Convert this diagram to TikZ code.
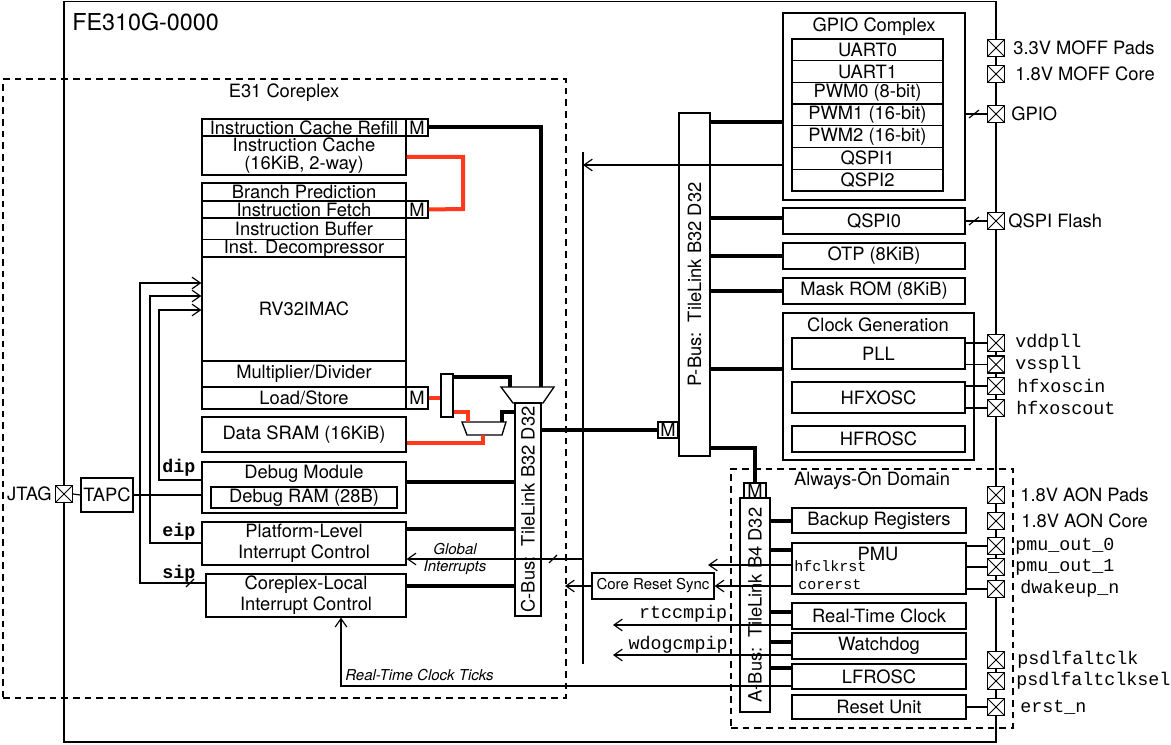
\documentclass[tikz,border=0pt]{standalone}
\usepackage{fontspec}
\setmainfont{TeX Gyre Heros}
\setmonofont{Liberation Mono}
\usetikzlibrary{arrows.meta,positioning,calc}
\definecolor{fetchred}{HTML}{FF3A1C}

\begin{document}
\begin{tikzpicture}[x=0.6pt,y=-0.6pt,
      blk/.style={draw,line width=0.8pt,fill=white,inner sep=0pt,font=\fontsize{11}{12.5}\selectfont},
      wh/.style 2 args={minimum width=#1*0.6pt,minimum height=#2*0.6pt},
      dom/.style={draw,line width=0.8pt,dash pattern=on 4pt off 3pt,inner sep=0pt},
      iopad/.style={draw,line width=0.8pt,fill=white,minimum size=10.2pt,inner sep=0pt,
        path picture={\draw[line width=0.6pt] (path picture bounding box.south west)--(path picture bounding box.north east)
          (path picture bounding box.north west)--(path picture bounding box.south east);}},
      padtxt/.style={anchor=west,inner sep=0pt,font=\fontsize{11}{12}\selectfont},
      padsig/.style={anchor=west,inner sep=0pt,font=\fontsize{11}{12}\selectfont\ttfamily},
      smallsig/.style={anchor=west,inner sep=0pt,font=\fontsize{9}{10}\selectfont\ttfamily},
      irq/.style={inner sep=0pt,font=\fontsize{11}{12}\selectfont\ttfamily\bfseries},
      itnote/.style={inner sep=0pt,font=\fontsize{9}{10}\selectfont\itshape},
      hdr/.style={inner sep=0pt,font=\fontsize{11}{12}\selectfont},
      bustxt/.style={rotate=90,inner sep=0pt,font=\fontsize{11}{12}\selectfont},
      tlbus/.style={line width=2.4pt},
      tlred/.style={line width=2.4pt,fetchred},
      wire/.style={line width=0.7pt},
      sigarr/.style={wire,-{Straight Barb[length=5pt,width=7pt]}}]
    \useasboundingbox (0,0) rectangle (1171,745);
    \node[draw,line width=0.9pt,inner sep=0pt,wh={932}{740.5}] (chip) at (530,371.75) {};
    \node[anchor=west,inner sep=0pt,font=\fontsize{14}{16}\selectfont] at (72,22) {FE310G-0000};
    \node[dom,wh={563}{619}] (coreplex) at (284.5,388.5) {};
    \node[hdr] at (284,93) {E31 Coreplex};
    \node[dom,wh={282}{259}] (aon) at (872,598.5) {};
    \node[hdr] at (872,481) {Always-On Domain};

    % core
    \node[blk,wh={204}{17}] (icrefill) at (304,127.5) {Instruction Cache Refill};
    \node[blk,wh={204}{39}] (icache) at (304,155.5) {};
    \node[hdr] at (304,145) {Instruction Cache};
    \node[hdr] at (304,165) {(16KiB, 2-way)};
    \node[blk,wh={204}{18}] (bpred) at (304,192) {Branch Prediction};
    \node[blk,wh={204}{17}] (ifetch) at (304,209.5) {Instruction Fetch};
    \node[blk,wh={204}{22}] (ibuf) at (304,229) {Instruction Buffer};
    \node[blk,wh={204}{17}] (idecomp) at (304,248.5) {Inst. Decompressor};
    \node[blk,wh={204}{104}] (core) at (304,309) {RV32IMAC};
    \node[blk,wh={204}{26}] (muldiv) at (304,374) {Multiplier/Divider};
    \node[blk,wh={204}{22}] (lsu) at (304,398) {Load/Store};
    \node[blk,wh={204}{35}] (dsram) at (304,434.5) {Data SRAM (16KiB)};
    \node[blk,wh={204}{51}] (debug) at (304,487.5) {};
    \node[hdr] at (304,474) {Debug Module};
    \node[blk,wh={186}{21}] (debugram) at (304,497.5) {Debug RAM (28B)};
    \node[blk,wh={204}{43},align=center] (plic) at (304,543.5) {Platform-Level\\Interrupt Control};
    \node[blk,wh={200}{43},align=center] (clint) at (306,595.5) {Coreplex-Local\\Interrupt Control};
    \node[blk,wh={22}{17}] (mRefill) at (417,127.5) {M};
    \node[blk,wh={22}{17}] (mFetch) at (417,209.5) {M};
    \node[blk,wh={22}{22}] (mLsu) at (417,398) {M};
    \node[blk,wh={12}{43}] (demux) at (447,395.5) {};
    \draw[line width=0.8pt,fill=white] (501,387) -- (554,387) -- (543,403) -- (513,403) -- cycle;
    \draw[line width=0.8pt,fill=white] (462,422) -- (506,422) -- (502,435) -- (467,435) -- cycle;
    \node[blk,wh={26}{213}] (cbus) at (528,509.5) {};
    \node[bustxt] at (cbus.center) {C-Bus:~~TileLink B32 D32};
    \node[blk,wh={52}{34}] (tapc) at (107,495) {TAPC};
    \node[blk,wh={122}{26},font=\fontsize{9}{10}\selectfont] (crsync) at (653,586) {Core Reset Sync};

    % peripherals
    \node[blk,wh={31}{343}] (pbus) at (694.5,284.5) {};
    \node[bustxt] at (pbus.center) {P-Bus:~~TileLink B32 D32};
    \node[blk,wh={20}{16}] (mPbus) at (668,430) {M};
    \node[blk,wh={182}{187}] (gpio) at (874,106.5) {};
    \node[hdr] at (874,27) {GPIO Complex};
    \foreach \lbl [count=\i from 0] in {UART0,UART1,PWM0 (8-bit),PWM1 (16-bit),PWM2 (16-bit),QSPI1,QSPI2}
      \node[blk,wh={151}{21.7}] (gp\i) at (867.5,49.85+21.7*\i) {\lbl};
    \node[blk,wh={182}{26}] (qspi0) at (874,221) {QSPI0};
    \node[blk,wh={182}{26}] (otp) at (874,256) {OTP (8KiB)};
    \node[blk,wh={182}{26}] (maskrom) at (874,291) {Mask ROM (8KiB)};
    \node[blk,wh={191}{147}] (clkgen) at (878.5,386.5) {};
    \node[hdr] at (878,325) {Clock Generation};
    \node[blk,wh={173}{31}] (pll) at (878.5,353.5) {PLL};
    \node[blk,wh={173}{31}] (hfxosc) at (878.5,397.5) {HFXOSC};
    \node[blk,wh={173}{26}] (hfrosc) at (878.5,439) {HFROSC};

    % always-on
    \node[blk,wh={30}{214}] (abus) at (755,605) {};
    \node[bustxt] at (abus.center) {A-Bus:~~TileLink B4 D32};
    \node[blk,wh={22}{15}] (mAbus) at (755,490.5) {M};
    \node[blk,wh={174}{25}] (backup) at (879,520.5) {Backup Registers};
    \node[blk,wh={174}{51}] (pmu) at (879,568.5) {};
    \node[hdr] at (878,554) {PMU};
    \node[blk,wh={174}{26}] (rtc) at (879,616) {Real-Time Clock};
    \node[blk,wh={174}{26}] (wdog) at (879,646) {Watchdog};
    \node[blk,wh={174}{25}] (lfrosc) at (879,676.5) {LFROSC};
    \node[blk,wh={174}{24}] (rstunit) at (879,707) {Reset Unit};

    % buses
    \draw[tlbus] (mRefill.east) -| (541,387);
    \draw[tlred] (icache.east |- 0,157) -| (463,209) -- (mFetch.east);
    \draw[tlred] (mLsu.east) -- (mLsu.east -| demux.west);
    \draw[tlbus] (demux.east |- 0,377) -| (510,387);
    \draw[tlred] (demux.east |- 0,412) -| (468,422);
    \draw[tlred] (dsram.east |- 0,443) -| (483,435);
    \draw[tlbus] (502,422) |- (cbus.west |- 0,412);
    \foreach \src/\yy in {debug/482,plic/529,clint/586}
      \draw[tlbus] (\src.east |- 0,\yy) -- (cbus.west |- 0,\yy);
    \draw[tlbus] (cbus.east |- mPbus) -- (mPbus.west);
    \foreach \dst/\yy in {gpio/122,qspi0/218,otp/256,maskrom/291,clkgen/369}
      \draw[tlbus] (pbus.east |- 0,\yy) -- (\dst.west |- 0,\yy);
    \draw[tlbus] (pbus.east |- 0,448) -| (mAbus.north);
    \foreach \dst/\yy in {backup/521,pmu/550,rtc/612,wdog/642,lfrosc/668}
      \draw[tlbus] (abus.east |- 0,\yy) -- (\dst.west |- 0,\yy);

    % interrupts and signals
    \draw[sigarr] (debug.west |- 0,480) -| (159,310) -- (core.west |- 0,310);
    \draw[sigarr] (plic.west |- 0,543) -| (150,296) -- (core.west |- 0,296);
    \draw[sigarr] (clint.west |- 0,583) -| (140,283) -- (core.west |- 0,283);
    \draw[wire] (186,587) -- (194,579);
    \node[irq] at (179,468) {dip};
    \node[irq] at (179,532) {eip};
    \node[irq] at (179,574) {sip};
    \draw[wire] (tapc.east) -- (tapc.east -| debug.west);
    \draw[wire] (583,152) coordinate (irqtop) -- (583,664);
    \draw[sigarr] (gpio.west |- 0,165) -- (irqtop |- 0,165);
    \draw[sigarr] (irqtop |- 0,559) -- (plic.east |- 0,559);
    \draw[wire] (549,563) -- (557,555);
    \node[itnote] at (455,549) {Global};
    \node[itnote] at (455,568) {Interrupts};
    \draw[sigarr] (pmu.west |- 0,565) -- (708,565);
    \draw[sigarr] (pmu.west |- 0,586) -- (crsync.east);
    \draw[sigarr] (crsync.west) -- (565,586);
    \draw[sigarr] (rtc.west |- 0,625) -- (613,625);
    \draw[sigarr] (wdog.west |- 0,655) -- (613,655);
    \draw[sigarr] (lfrosc.west |- 0,686) -| (clint.south -| 341,0);
    \node[smallsig] at (794,566) {hfclkrst};
    \node[smallsig] at (798,585) {corerst};
    \node[padsig,anchor=center] at (683,614) {rtccmpip};
    \node[padsig,anchor=center] at (678,645) {wdogcmpip};
    \node[itnote,anchor=west] at (345,675) {Real-Time Clock Ticks};

    % pads
    \node[iopad] (pJtag) at (64,494) {};
    \node[padtxt,anchor=east] at (52,494) {JTAG};
    \draw[wire] (pJtag.east) -- (tapc.west);
    \foreach \nm/\yy in {pMoffP/48,pMoffC/74,pGpio/114,pQspi/221,pVdd/343,pVss/364.5,pXin/386,pXout/408,
        pAonP/495,pAonC/521,pPmu0/546,pPmu1/567,pWake/589,pAlt/660,pAltSel/681,pErst/707}
      \node[iopad] (\nm) at (996,\yy) {};
    \draw[wire] (gpio.east |- pGpio) -- (pGpio.west);
    \draw[wire] (969,118) -- (979,110);
    \draw[wire] (qspi0.east |- pQspi) -- (pQspi.west);
    \draw[wire] (969,225) -- (979,217);
    \draw[wire] (pll.east |- pVdd) -- (pVdd.west);
    \draw[wire] (pll.east |- pVss) -- (pVss.west);
    \draw[wire] (hfxosc.east |- pXin) -- (pXin.west);
    \draw[wire] (hfxosc.east |- pXout) -- (pXout.west);
    \draw[wire] (pmu.east |- pPmu0) -- (pPmu0.west);
    \draw[wire] (pmu.east |- pPmu1) -- (pPmu1.west);
    \draw[wire] (pmu.east |- pWake) -- (pWake.west);
    \draw[wire] (rstunit.east |- pErst) -- (pErst.west);
    \node[padtxt] at (1013,48) {3.3V MOFF Pads};
    \node[padtxt] at (1015,74) {1.8V MOFF Core};
    \node[padtxt] at (1011,114) {GPIO};
    \node[padtxt] at (1008,221) {QSPI Flash};
    \node[padsig] at (1015,343) {vddpll};
    \node[padsig] at (1015,365) {vsspll};
    \node[padsig] at (1017,386) {hfxoscin};
    \node[padsig] at (1016,408) {hfxoscout};
    \node[padtxt] at (1020,495) {1.8V AON Pads};
    \node[padtxt] at (1021,521) {1.8V AON Core};
    \node[padsig] at (1015,546) {pmu\_out\_0};
    \node[padsig] at (1015,567) {pmu\_out\_1};
    \node[padsig] at (1020,589) {dwakeup\_n};
    \node[padsig] at (1017,660) {psdlfaltclk};
    \node[padsig] at (1016,681) {psdlfaltclksel};
    \node[padsig] at (1020,707) {erst\_n};
  \end{tikzpicture}
\end{document}
